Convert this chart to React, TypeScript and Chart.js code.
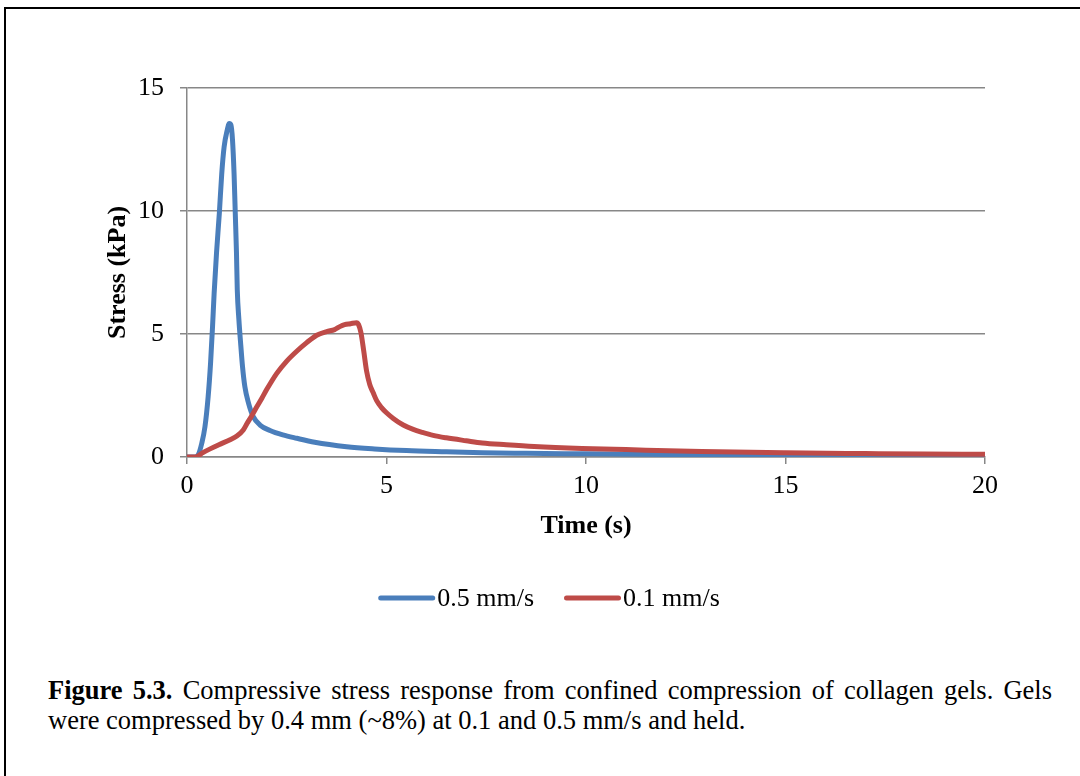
import React, { useEffect, useRef } from "react";
import { Chart, registerables } from "chart.js";

Chart.register(...registerables);

const SERIF = "'Liberation Serif', 'Times New Roman', serif";
const GRID = "#878787";

const seriesLabels = ["0.5 mm/s", "0.1 mm/s"];
const seriesColors = ["#4A7EBB", "#BE4B48"];

const fastTime = [0, 0.2, 0.28, 0.37, 0.45, 0.53, 0.59, 0.64, 0.68, 0.74, 0.81, 0.87, 0.93, 1.01, 1.06, 1.1, 1.14, 1.18, 1.21, 1.24, 1.26, 1.3, 1.35, 1.39, 1.45, 1.54, 1.66, 1.83, 2.08, 2.4, 2.75, 3.2, 4.0, 4.7, 5.5, 6.5, 7.4, 8.5, 10, 11.5, 13, 15, 17, 18.5, 20];
const fastStress = [0, 0, 0.08, 0.56, 1.23, 2.45, 3.8, 5.3, 6.65, 8.3, 9.9, 11.5, 12.6, 13.3, 13.56, 13.5, 12.9, 11.5, 9.9, 8.3, 6.8, 5.6, 4.5, 3.7, 2.86, 2.2, 1.64, 1.3, 1.08, 0.9, 0.76, 0.6, 0.42, 0.33, 0.26, 0.21, 0.17, 0.15, 0.13, 0.11, 0.09, 0.07, 0.05, 0.04, 0.03];

const slowTime = [0, 0.21, 0.4, 0.58, 0.8, 1.08, 1.25, 1.41, 1.5, 1.63, 1.75, 1.88, 2.0, 2.25, 2.5, 2.75, 3.0, 3.25, 3.5, 3.7, 3.83, 3.95, 4.1, 4.25, 4.3, 4.36, 4.43, 4.5, 4.58, 4.67, 4.75, 4.87, 5.0, 5.17, 5.42, 5.67, 5.9, 6.17, 6.5, 7.0, 7.4, 8.0, 8.7, 9.9, 11.0, 12.9, 15.0, 17.0, 18.5, 20];
const slowStress = [0, 0, 0.18, 0.33, 0.5, 0.7, 0.85, 1.1, 1.35, 1.7, 2.04, 2.4, 2.75, 3.4, 3.9, 4.3, 4.65, 4.95, 5.1, 5.18, 5.3, 5.38, 5.42, 5.46, 5.38, 5.05, 4.3, 3.5, 2.95, 2.6, 2.3, 2.02, 1.8, 1.57, 1.3, 1.12, 1.0, 0.88, 0.78, 0.66, 0.57, 0.5, 0.43, 0.35, 0.3, 0.22, 0.17, 0.14, 0.12, 0.11];

const xMin = 0;
const xMax = 20;
const xStep = 5;
const yMin = 0;
const yMax = 15;
const yStep = 5;

const toPoints = (xs: number[], ys: number[]) => xs.map((x, i) => ({ x, y: ys[i] }));

// Excel-style legend: short thick line sample directly followed by the label
const lineLegend = {
  id: "lineLegend",
  afterDraw(chart: any) {
    const { ctx, chartArea } = chart;
    const lineLen = 57;
    const textGap = 2;
    const itemGap = 30;
    ctx.save();
    ctx.font = `26px ${SERIF}`;
    const items = chart.data.datasets.map((ds: any) => ({
      text: ds.label as string,
      color: ds.borderColor as string,
      w: lineLen + textGap + ctx.measureText(ds.label).width,
    }));
    const total = items.reduce((a: number, it: any) => a + it.w, 0) + itemGap * (items.length - 1);
    const cx = (chartArea.left + chartArea.right) / 2 - 37;
    const cy = chartArea.bottom + 141;
    let x = cx - total / 2;
    ctx.textBaseline = "middle";
    ctx.textAlign = "left";
    for (const it of items) {
      ctx.strokeStyle = it.color;
      ctx.lineWidth = 5;
      ctx.lineCap = "round";
      ctx.beginPath();
      ctx.moveTo(x + 2.5, cy);
      ctx.lineTo(x + lineLen - 2.5, cy);
      ctx.stroke();
      ctx.fillStyle = "#000";
      ctx.fillText(it.text, x + lineLen + textGap, cy + 1);
      x += it.w + itemGap;
    }
    ctx.restore();
  },
};

export default function App() {
  const canvasRef = useRef<HTMLCanvasElement | null>(null);

  useEffect(() => {
    if (!canvasRef.current) return;
    const tickFont = { family: SERIF, size: 26 };
    const titleFont = { family: SERIF, size: 26, weight: "bold" as const };
    const chart = new Chart(canvasRef.current, {
      type: "line",
      data: {
        datasets: [
          {
            label: seriesLabels[0],
            data: toPoints(fastTime, fastStress),
            borderColor: seriesColors[0],
            backgroundColor: seriesColors[0],
            borderWidth: 5,
            pointRadius: 0,
            cubicInterpolationMode: "monotone",
            borderCapStyle: "round",
            borderJoinStyle: "round",
            order: 1,
          },
          {
            label: seriesLabels[1],
            data: toPoints(slowTime, slowStress),
            borderColor: seriesColors[1],
            backgroundColor: seriesColors[1],
            borderWidth: 5,
            pointRadius: 0,
            cubicInterpolationMode: "monotone",
            borderCapStyle: "round",
            borderJoinStyle: "round",
            order: 0,
          },
        ],
      },
      options: {
        responsive: false,
        animation: false,
        layout: { padding: { left: 113, right: 95, top: 88, bottom: 65 } },
        plugins: {
          tooltip: { enabled: false },
          legend: { display: false },
        },
        scales: {
          x: {
            type: "linear",
            min: xMin,
            max: xMax,
            ticks: { stepSize: xStep, font: tickFont, color: "#000", padding: 7, maxRotation: 0 },
            grid: { drawOnChartArea: false, tickLength: 7, color: GRID, lineWidth: 1.5 },
            border: { color: GRID, width: 1.5 },
            title: { display: true, text: "Time (s)", font: titleFont, color: "#000", padding: { top: 0, bottom: 33 } },
            afterFit: (s: any) => {
              s.height = 118;
            },
          },
          y: {
            type: "linear",
            min: yMin,
            max: yMax,
            ticks: { stepSize: yStep, font: tickFont, color: "#000", padding: 16 },
            grid: { tickLength: 7, color: GRID, lineWidth: 1.5 },
            border: { color: GRID, width: 1.5 },
            title: { display: true, text: "Stress (kPa)", font: titleFont, color: "#000", padding: { top: -10.6, bottom: 0 } },
            afterFit: (s: any) => {
              s.width = 74;
            },
          },
        },
      },
      plugins: [lineLegend],
    } as any);
    return () => chart.destroy();
  }, []);

  return (
    <div style={{ position: "absolute", left: 0, top: 0, width: 1080, height: 776, background: "#fff", overflow: "hidden" }}>
      <div
        style={{
          position: "absolute",
          left: 4,
          top: 7,
          width: 1200,
          height: 900,
          borderLeft: "2px solid #000",
          borderTop: "2px solid #000",
        }}
      />
      <canvas
        ref={canvasRef}
        width={1080}
        height={640}
        style={{ position: "absolute", left: 0, top: 0, width: 1080, height: 640 }}
      />
      <div
        style={{
          position: "absolute",
          left: 48,
          top: 675,
          width: 1004,
          fontFamily: SERIF,
          fontSize: 26.5,
          lineHeight: "30px",
          textAlign: "justify",
          color: "#000",
        }}
      >
        <b>Figure 5.3.</b> Compressive stress response from confined compression of collagen gels. Gels were
        compressed by 0.4 mm (~8%) at 0.1 and 0.5 mm/s and held.
      </div>
    </div>
  );
}
